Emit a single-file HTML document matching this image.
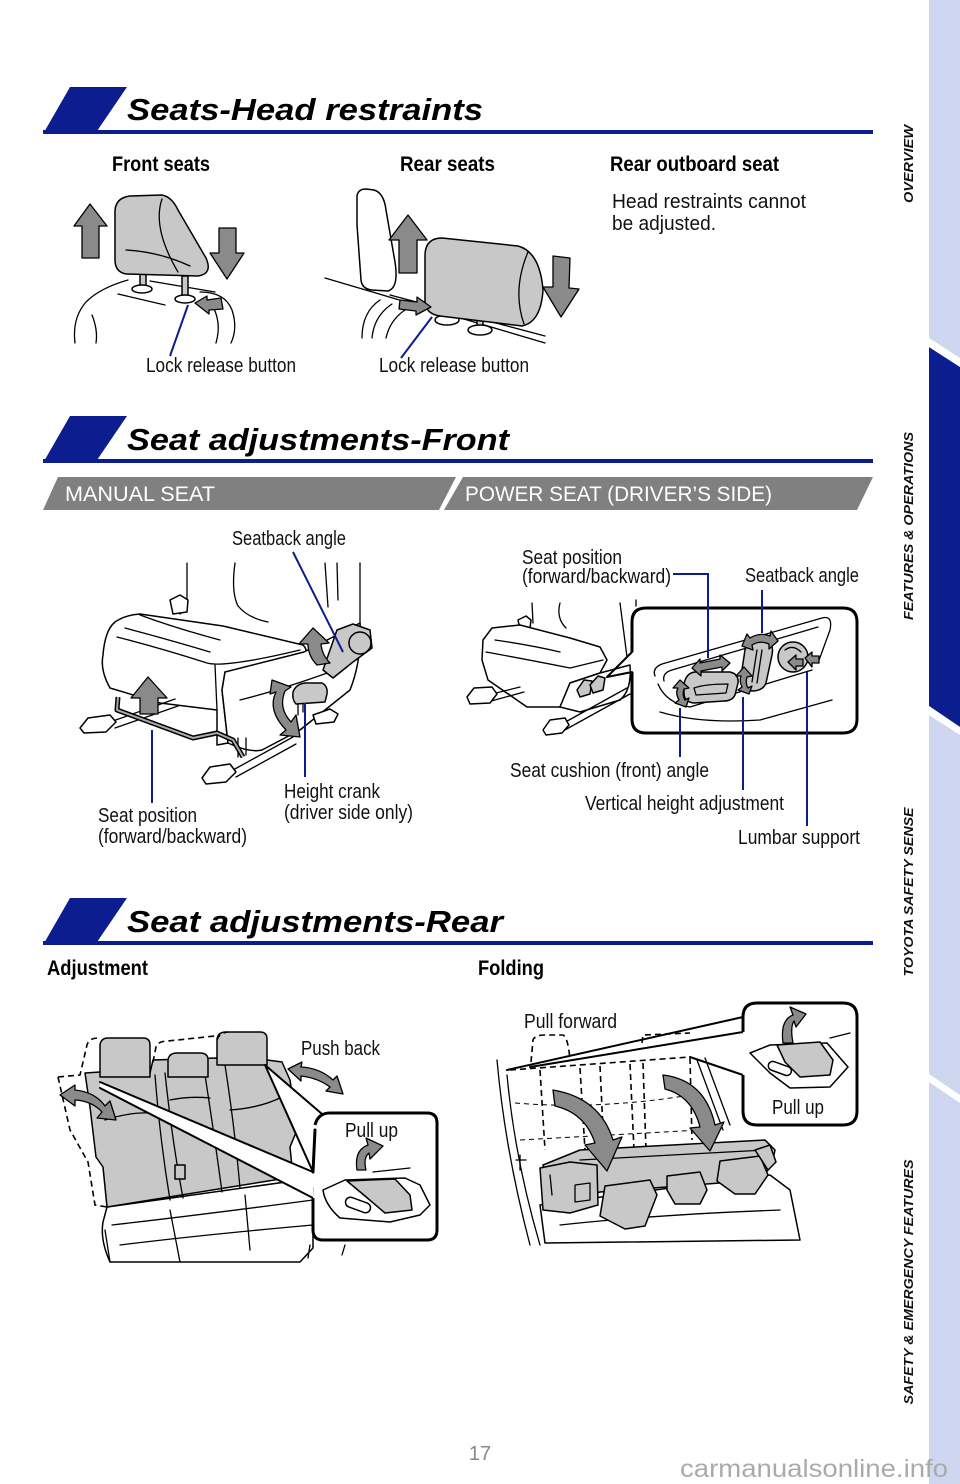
<!DOCTYPE html>
<html><head><meta charset="utf-8">
<style>
html,body{margin:0;padding:0;background:#fff;}
svg{display:block;}
.h{font-family:"Liberation Sans",sans-serif;font-weight:bold;font-style:italic;font-size:31px;fill:#000;}
.sh{font-family:"Liberation Sans Narrow","Liberation Sans",sans-serif;font-weight:bold;font-size:21px;fill:#000;}
.l{font-family:"Liberation Sans Narrow","Liberation Sans",sans-serif;font-size:20px;fill:#111;}
.tab{font-family:"Liberation Sans",sans-serif;font-size:21px;fill:#fff;}
.side{font-family:"Liberation Sans",sans-serif;font-weight:bold;font-style:italic;font-size:13px;fill:#111;}
.o{fill:none;stroke:#000;stroke-width:1.3;stroke-linejoin:round;stroke-linecap:round}
.g{fill:#c8c8c8;stroke:#000;stroke-width:1.5;stroke-linejoin:round}
.w{fill:#fff;stroke:#000;stroke-width:1.5;stroke-linejoin:round}
.a{fill:#8a8a8a;stroke:#000;stroke-width:1.3;stroke-linejoin:round}
.b{stroke:#0c1d8f;stroke-width:2;fill:none}
.bx{fill:#fff;stroke:#000;stroke-width:3;stroke-linejoin:round}
.d{fill:none;stroke:#000;stroke-width:1.6;stroke-dasharray:6 4}
.dt{fill:none;stroke:#000;stroke-width:1;stroke-dasharray:5 4}
</style></head><body>
<svg width="960" height="1484" viewBox="0 0 960 1484" xmlns="http://www.w3.org/2000/svg">
<rect width="960" height="1484" fill="#fff"/>

<!-- side band -->
<rect x="929" y="0" width="31" height="1484" fill="#cfd7f0"/>
<polygon points="929,347 960,367 960,727 929,706" fill="#0c1d8f"/>
<polygon points="929,338 960,358 960,367 929,347" fill="#fff"/>
<polygon points="929,706 960,727 960,735 929,715" fill="#fff"/>
<polygon points="929,1074 960,1095 960,1103 929,1082" fill="#fff"/>
<text class="side" transform="translate(913,164) rotate(-90)" text-anchor="middle" textLength="78" lengthAdjust="spacingAndGlyphs">OVERVIEW</text>
<text class="side" transform="translate(913,526) rotate(-90)" text-anchor="middle" textLength="188" lengthAdjust="spacingAndGlyphs">FEATURES &amp; OPERATIONS</text>
<text class="side" transform="translate(913,892) rotate(-90)" text-anchor="middle" textLength="169" lengthAdjust="spacingAndGlyphs">TOYOTA SAFETY SENSE</text>
<text class="side" transform="translate(913,1282) rotate(-90)" text-anchor="middle" textLength="245" lengthAdjust="spacingAndGlyphs">SAFETY &amp; EMERGENCY FEATURES</text>

<!-- headers -->
<polygon points="70,87 127,87 95,134 43,134" fill="#0c1d8f"/>
<rect x="43" y="130" width="830" height="4" fill="#0c1d8f"/>
<text class="h" x="127" y="120" textLength="356" lengthAdjust="spacingAndGlyphs">Seats-Head restraints</text>

<polygon points="70,416 127,416 95,463 43,463" fill="#0c1d8f"/>
<rect x="43" y="459" width="830" height="4" fill="#0c1d8f"/>
<text class="h" x="127" y="450" textLength="382" lengthAdjust="spacingAndGlyphs">Seat adjustments-Front</text>

<polygon points="70,898 127,898 95,945 43,945" fill="#0c1d8f"/>
<rect x="43" y="941" width="830" height="4" fill="#0c1d8f"/>
<text class="h" x="127" y="932" textLength="376" lengthAdjust="spacingAndGlyphs">Seat adjustments-Rear</text>

<!-- gray tabs -->
<polygon points="58,477 456,477 439,510 43,510" fill="#808080"/>
<polygon points="463,477 873,477 857,510 444,510" fill="#808080"/>
<text class="tab" x="65" y="501" textLength="150" lengthAdjust="spacingAndGlyphs">MANUAL SEAT</text>
<text class="tab" x="465" y="501" textLength="307" lengthAdjust="spacingAndGlyphs">POWER SEAT (DRIVER’S SIDE)</text>

<!-- ===== Section 1 labels ===== -->
<text class="sh" x="112" y="171" textLength="98" lengthAdjust="spacingAndGlyphs">Front seats</text>
<text class="sh" x="400" y="171" textLength="95" lengthAdjust="spacingAndGlyphs">Rear seats</text>
<text class="sh" x="610" y="171" textLength="169" lengthAdjust="spacingAndGlyphs">Rear outboard seat</text>
<text class="l" x="612" y="208" textLength="194" lengthAdjust="spacingAndGlyphs">Head restraints cannot</text>
<text class="l" x="612" y="230" textLength="104" lengthAdjust="spacingAndGlyphs">be adjusted.</text>
<text class="l" x="146" y="372" textLength="150" lengthAdjust="spacingAndGlyphs">Lock release button</text>
<text class="l" x="379" y="372" textLength="150" lengthAdjust="spacingAndGlyphs">Lock release button</text>

<!-- Front headrest illustration -->
<path class="o" d="M75,343 Q72,318 86,302 Q100,288 128,280"/>
<path class="o" d="M200,292 Q225,292 232,310 Q238,328 231,343"/>
<path class="o" d="M118,294 L165,305"/>
<path class="o" d="M92,315 Q98,330 96,343"/>
<path class="o" d="M212,305 Q222,322 216,343"/>
<path class="o" d="M150,281 L215,292"/>
<rect class="g" x="140" y="268" width="6" height="20"/>
<ellipse class="w" cx="142" cy="289" rx="10" ry="4"/>
<rect class="g" x="182" y="276" width="6" height="22"/>
<ellipse class="w" cx="185" cy="299" rx="10" ry="4"/>
<path class="g" d="M115,214 Q114,198 130,196 L162,195 Q172,197 178,210 L206,258 Q213,274 198,276 L126,274 Q115,272 115,260 Z"/>
<path class="o" d="M162,199 Q152,228 178,272"/>
<path class="o" d="M126,250 Q160,252 190,266"/>
<path class="a" d="M90,204 L107,226 L99,226 L99,258 L82,258 L82,226 L74,226 Z"/>
<path class="a" d="M219,228 L236,228 L236,253 L244,253 L227,279 L210,253 L219,253 Z"/>
<path class="a" d="M195,303 L207,296 L207,300 L221,298 L223,309 L209,310 L209,314 Z"/>
<line class="b" x1="188" y1="305" x2="170" y2="356"/>

<!-- Rear headrest illustration -->
<path class="o" d="M325,278 L545,343"/>
<path class="o" d="M390,295 L545,336"/>
<path class="w" d="M357,196 Q358,189 366,189 L374,190 Q384,193 386,210 L395,262 Q399,288 388,291 L372,290 Q362,289 361,280 L357,225 Z"/>
<path class="o" d="M362,338 Q362,312 380,300"/>
<path class="o" d="M372,338 Q374,316 392,304"/>
<path class="o" d="M386,338 Q390,320 405,310"/>
<rect class="g" x="443" y="302" width="6" height="17"/>
<ellipse class="w" cx="447" cy="320" rx="12" ry="5"/>
<rect class="g" x="477" y="312" width="6" height="17"/>
<ellipse class="w" cx="480" cy="330" rx="12" ry="5"/>
<path class="g" d="M425,254 Q426,238 442,238 L518,246 Q540,252 543,290 Q541,322 522,326 L440,316 Q425,314 425,300 Z"/>
<path class="o" d="M528,252 Q512,290 524,324"/>
<path class="a" d="M408,215 L427,240 L417,240 L417,273 L399,273 L399,240 L389,240 Z"/>
<path class="a" d="M553,256 L570,258 L569,288 L579,289 L561,317 L543,287 L553,287 Z"/>
<path class="a" d="M400,300 L417,302 L417,297 L431,307 L416,315 L416,311 L399,309 Z"/>
<line class="b" x1="432" y1="317" x2="401" y2="358"/>

<!-- ===== Manual seat ===== -->
<path class="o" d="M187,563 L187,600 Q186,610 180,614"/>
<path class="o" d="M235,563 Q231,592 238,606 Q248,618 268,622"/>
<path class="o" d="M325,563 L328,607"/>
<path class="o" d="M337,563 L338,600"/>
<path class="o" d="M360,563 L360,625"/>
<path class="w" d="M170,600 L180,595 L188,600 L187,612 L173,614 Z"/>
<!-- cushion -->
<path class="w" d="M115,622 Q125,615 140,614 L223,626 L303,645 Q310,652 302,660 L225,672 L222,690 L228,743 L217,745 L217,710 L160,703 L110,688 Q100,670 103,655 Q105,630 115,622 Z"/>
<path class="o" d="M117,637 Q160,648 207,663 Q225,668 300,650"/>
<path class="o" d="M125,628 Q170,640 210,652"/>
<path class="o" d="M140,615 Q175,628 220,640"/>
<path class="o" d="M215,665 L217,710"/>
<path class="w" d="M228,743 Q250,753 262,750 L300,730 L350,690 Q362,660 360,623 L304,652 L225,672 L222,690 Z"/>
<path class="o" d="M240,700 Q280,690 330,672"/>
<!-- rails -->
<path class="o" d="M110,722 L175,699"/>
<path class="o" d="M115,728 L178,706"/>
<path class="w" d="M80,728 L88,718 L110,715 L116,722 L106,732 L84,733 Z"/>
<path class="o" d="M233,770 L293,737"/>
<path class="o" d="M236,777 L296,744"/>
<path class="w" d="M202,778 L210,767 L230,764 L236,772 L226,782 L206,784 Z"/>
<path class="w" d="M313,715 L330,709 L338,714 L334,722 L316,724 Z"/>
<path class="o" d="M238,738 L238,757 M246,738 L246,755"/>
<!-- handle bar -->
<path d="M118,697 L117,710 L193,738 L217,733 L233,740 L243,757" fill="none" stroke="#000" stroke-width="5" stroke-linejoin="round"/>
<path d="M118,697 L117,710 L193,738 L217,733 L233,740 L243,757" fill="none" stroke="#aaa" stroke-width="2" stroke-linejoin="round"/>
<!-- recliner lever -->
<path class="g" d="M323,670 L337,630 L353,624 L370,630 L372,648 L353,662 L333,678 Z"/>
<circle class="g" cx="360" cy="643" r="11"/>
<!-- height crank -->
<path class="g" d="M293,692 Q296,684 305,683 L322,683 Q328,686 327,694 L325,702 L296,704 Q292,700 293,692 Z"/>
<path class="o" d="M298,704 L298,715 M303,704 L303,712"/>
<!-- arrows -->
<path class="a" d="M148,677 L167,698 L158,698 L158,714 L140,714 L140,698 L131,698 Z"/>
<path class="a" d="M313,628 L329,643 L321,644 Q322,655 330,663 L317,665 Q308,656 308,644 L299,644 Z"/>
<path class="a" d="M272,680 L291,687 L285,691 Q278,708 291,722 L296,715 L300,737 L280,735 L286,730 Q267,710 276,692 L270,694 Z"/>
<line class="b" x1="293" y1="552" x2="343" y2="652"/>
<line class="b" x1="152" y1="730" x2="152" y2="803"/>
<line class="b" x1="305" y1="703" x2="305" y2="777"/>
<text class="l" x="232" y="545" textLength="114" lengthAdjust="spacingAndGlyphs">Seatback angle</text>
<text class="l" x="284" y="798" textLength="96" lengthAdjust="spacingAndGlyphs">Height crank</text>
<text class="l" x="284" y="819" textLength="129" lengthAdjust="spacingAndGlyphs">(driver side only)</text>
<text class="l" x="98" y="822" textLength="99" lengthAdjust="spacingAndGlyphs">Seat position</text>
<text class="l" x="98" y="843" textLength="149" lengthAdjust="spacingAndGlyphs">(forward/backward)</text>

<!-- ===== Power seat ===== -->
<path class="o" d="M532,603 L533,623"/>
<path class="o" d="M560,603 Q556,618 566,628"/>
<path class="o" d="M620,603 L627,657"/>
<path class="o" d="M636,600 L636,606"/>
<path class="w" d="M518,620 L526,616 L531,620 L530,628 L520,629 Z"/>
<path class="w" d="M483,640 L492,628 L520,625 L570,638 L600,647 L607,660 L600,673 L570,683 L560,707 L527,707 L488,680 L482,660 Z"/>
<path class="o" d="M486,652 Q530,660 570,668 L603,660"/>
<path class="o" d="M495,640 Q530,645 560,652"/>
<path class="w" d="M560,707 L570,683 L600,673 L630,665 Q632,690 620,700 L580,712 Z"/>
<path class="g" d="M577,690 L584,680 L592,681 L590,694 L580,697 Z"/>
<path class="g" d="M590,685 L598,676 L605,678 L603,690 L593,693 Z"/>
<path class="o" d="M480,697 L520,687 M484,703 L524,692"/>
<path class="w" d="M467,697 L474,688 L492,687 L497,694 L490,703 L470,704 Z"/>
<path class="o" d="M560,725 L627,688 M563,731 L630,694"/>
<path class="w" d="M543,730 L550,720 L565,718 L569,725 L562,733 L546,735 Z"/>
<!-- inset box -->
<path class="bx" d="M632,652 L632,622 Q632,608 646,608 L843,608 Q857,608 857,622 L857,719 Q857,733 843,733 L646,733 Q632,733 632,719 L632,672"/>
<path class="o" d="M632,652 L607,677 L632,672" style="stroke-width:2"/>
<path class="o" d="M655,676 Q652,668 662,664 L822,618 Q833,615 830,630 L818,663"/>
<path class="o" d="M664,681 Q662,673 672,670 L818,627"/>
<path class="o" d="M658,684 Q666,703 690,707 L812,670"/>
<path class="o" d="M660,712 Q700,724 760,720 L832,700"/>
<path class="g" d="M684,684 Q686,673 695,672 L730,672 Q739,674 738,683 L735,695 Q732,701 724,701 L694,703 Q684,702 684,693 Z"/>
<path class="o" d="M694,688 Q705,684 728,684 L726,693 L696,695 Z"/>
<path class="g" d="M745,650 Q748,640 758,640 L768,642 Q774,645 772,655 L766,683 Q763,691 752,691 L745,689 Q740,686 741,676 Z"/>
<path class="o" d="M757,650 L752,682 M762,650 L757,683"/>
<circle class="g" cx="793" cy="657" r="15"/>
<path class="o" d="M785,650 Q793,644 801,652"/>
<path class="a" d="M692,668 L700,659 L700,663 L720,659 L720,655 L730,663 L722,671 L722,667 L701,671 L701,676 Z"/>
<path class="a" d="M742,646 L747,634 L750,638 Q760,632 770,636 L771,631 L778,641 L769,649 L769,644 Q760,640 752,645 L753,650 Z"/>
<path class="a" d="M680,680 L689,688 L684,689 Q682,695 685,700 L689,698 L686,707 L675,703 L679,700 Q675,693 678,688 L673,688 Z"/>
<path class="a" d="M744,667 L752,676 L747,677 Q745,683 748,688 L752,686 L749,694 L738,690 L742,687 Q739,681 741,676 L736,676 Z"/>
<path class="a" d="M788,662 L796,655 L796,659 L803,659 L803,666 L796,666 L796,670 Z"/>
<path class="a" d="M805,658 L812,652 L812,656 L819,656 L819,663 L812,663 L812,667 Z"/>
<polyline class="b" points="673,574 708,574 708,658"/>
<line class="b" x1="762" y1="590" x2="762" y2="633"/>
<line class="b" x1="680" y1="708" x2="680" y2="757"/>
<line class="b" x1="743" y1="697" x2="743" y2="790"/>
<line class="b" x1="807" y1="672" x2="807" y2="826"/>
<text class="l" x="522" y="564" textLength="100" lengthAdjust="spacingAndGlyphs">Seat position</text>
<text class="l" x="522" y="583" textLength="149" lengthAdjust="spacingAndGlyphs">(forward/backward)</text>
<text class="l" x="745" y="582" textLength="114" lengthAdjust="spacingAndGlyphs">Seatback angle</text>
<text class="l" x="510" y="777" textLength="199" lengthAdjust="spacingAndGlyphs">Seat cushion (front) angle</text>
<text class="l" x="585" y="810" textLength="199" lengthAdjust="spacingAndGlyphs">Vertical height adjustment</text>
<text class="l" x="738" y="844" textLength="122" lengthAdjust="spacingAndGlyphs">Lumbar support</text>

<!-- ===== Rear Adjustment ===== -->
<text class="sh" x="47" y="975" textLength="101" lengthAdjust="spacingAndGlyphs">Adjustment</text>
<text class="sh" x="478" y="975" textLength="66" lengthAdjust="spacingAndGlyphs">Folding</text>
<!-- cushion -->
<path class="w" d="M107,1207 L300,1180 L313,1188 L313,1248 L300,1262 L110,1262 Q100,1240 103,1222 Z"/>
<path class="o" d="M112,1225 Q200,1215 313,1200"/>
<path class="o" d="M120,1245 Q200,1235 313,1225"/>
<path class="o" d="M170,1210 L180,1262 M245,1195 L250,1250"/>
<path class="o" d="M110,1262 L105,1230"/>
<!-- seatback -->
<path class="g" d="M85,1073 L100,1072 L150,1073 L153,1060 L217,1058 L267,1060 L282,1062 L290,1080 L297,1130 L290,1147 L293,1177 L107,1207 L103,1167 L96,1157 L90,1107 Z"/>
<path class="o" d="M155,1075 Q160,1140 170,1200 M165,1073 Q172,1140 183,1198"/>
<path class="o" d="M205,1075 Q215,1140 222,1192 M225,1065 Q235,1130 240,1188"/>
<path class="o" d="M105,1120 Q130,1112 150,1113"/>
<path class="o" d="M230,1110 Q260,1108 282,1097"/>
<path class="o" d="M170,1100 Q190,1096 210,1098"/>
<rect class="g" x="175" y="1165" width="10" height="14"/>
<path class="g" d="M100,1077 L100,1045 Q101,1038 108,1038 L143,1038 Q150,1038 150,1045 L150,1077 Z"/>
<path class="g" d="M168,1077 L168,1060 Q169,1053 177,1053 L200,1053 Q208,1053 208,1060 L208,1077 Z"/>
<path class="g" d="M217,1065 L217,1039 Q218,1032 226,1032 L260,1032 Q267,1032 267,1039 L267,1065 Z"/>
<path class="d" d="M58,1077 L80,1075 L87,1045 Q89,1038 98,1038"/>
<path class="d" d="M58,1077 L70,1130 L88,1162 L95,1205 L107,1207"/>
<path class="d" d="M153,1062 L156,1047 Q158,1041 168,1041 L215,1036"/>
<path class="d" d="M217,1040 Q219,1033 228,1032"/>
<!-- wedge -->
<polygon points="100,1082 313,1172 313,1198 100,1088" fill="#fff"/>
<polygon points="265,1065 322,1114 313,1172" fill="#fff"/>
<path class="o" d="M100,1082 L313,1172 M100,1088 L313,1198" style="stroke-width:2"/>
<path class="o" d="M265,1065 L322,1114 M265,1065 L313,1172" style="stroke-width:2"/>
<path class="bx" d="M313,1198 L313,1230 Q313,1240 323,1240 L427,1240 Q437,1240 437,1230 L437,1123 Q437,1113 427,1113 L330,1113 Q318,1113 315,1125"/>
<path class="o" d="M315,1130 L313,1172" style="stroke-width:3"/>
<path class="w" d="M323,1190 L345,1180 L405,1178 L420,1185 L430,1205 L420,1215 L390,1222 L340,1218 Q325,1205 323,1190 Z"/>
<path class="o" d="M373,1172 L410,1168"/>
<path class="g" d="M347,1181 L395,1179 L410,1195 L412,1210 L385,1213 L365,1196 Z"/>
<rect class="w" x="345" y="1200" width="26" height="10" rx="5" transform="rotate(20 358 1205)"/>
<path class="a" d="M357,1170 Q354,1150 368,1145 L366,1138 L383,1146 L370,1159 L369,1153 Q363,1158 366,1170 Z"/>
<path class="a" d="M60,1095 L75,1085 L75,1090 Q95,1092 105,1106 L110,1101 L116,1120 L97,1118 L102,1112 Q92,1101 75,1100 L75,1106 Z"/>
<path class="a" d="M288,1069 L302,1062 L301,1067 Q320,1068 333,1080 L337,1076 L343,1094 L326,1091 L330,1087 Q318,1078 301,1076 L301,1081 Z"/>
<path class="o" d="M310,1245 L308,1258 M345,1245 L342,1255"/>
<text class="l" x="301" y="1055" textLength="79" lengthAdjust="spacingAndGlyphs">Push back</text>
<text class="l" x="345" y="1137" textLength="53" lengthAdjust="spacingAndGlyphs">Pull up</text>

<!-- ===== Folding ===== -->
<path class="o" d="M497,1060 Q505,1150 530,1245"/>
<path class="o" d="M507,1075 Q515,1160 540,1245"/>
<path class="o" d="M697,1060 L723,1130 M705,1058 L730,1125"/>
<path class="o" d="M520,1155 L520,1170 M516,1160 L526,1160"/>
<path class="d" d="M510,1070 L690,1057"/>
<path class="d" d="M531,1062 L533,1040 Q535,1035 545,1035 L563,1035 Q568,1037 570,1060"/>
<path class="d" d="M642,1043 L643,1035 L690,1033"/>
<path class="d" d="M540,1070 L545,1150 M580,1068 L585,1150 M600,1066 L604,1150 M630,1064 L634,1150 M643,1063 L646,1150 M690,1058 L692,1140"/>
<path class="dt" d="M515,1103 Q600,1110 690,1095"/>
<path class="dt" d="M520,1140 L700,1130"/>
<!-- cushion below -->
<path class="w" d="M540,1205 L770,1175 L790,1190 L800,1240 L545,1243 Z"/>
<path class="o" d="M560,1225 Q650,1215 780,1210"/>
<!-- folded slab -->
<path class="g" d="M543,1165 L580,1150 L765,1140 L775,1150 L772,1165 L760,1180 L600,1192 L560,1206 L547,1210 Z"/>
<path class="o" d="M580,1160 L765,1150"/>
<path class="g" d="M540,1168 L570,1162 L597,1165 L598,1205 L570,1213 L543,1210 Z"/>
<path class="o" d="M550,1175 L552,1195 M575,1185 L590,1183 L590,1200 L575,1202 Z"/>
<path class="g" d="M605,1186 L650,1180 L657,1195 L645,1226 L625,1229 L600,1216 Z"/>
<path class="g" d="M667,1176 L700,1172 L707,1190 L700,1204 L675,1204 L667,1190 Z"/>
<path class="g" d="M720,1161 L760,1156 L768,1175 L755,1194 L735,1194 L717,1181 Z"/>
<path class="g" d="M755,1150 L770,1145 L776,1162 L768,1170 Z"/>
<path class="a" d="M553,1090 Q600,1098 613,1140 L622,1137 L607,1171 L585,1145 L595,1143 Q585,1113 555,1106 Z"/>
<path class="a" d="M663,1075 Q705,1080 715,1125 L724,1122 L710,1151 L690,1128 L700,1127 Q692,1096 665,1089 Z"/>
<!-- wedges -->
<path class="o" d="M507,1070 L743,1017 M530,1067 L743,1032 M690,1057 L743,1075" style="stroke-width:2"/>
<path class="bx" d="M743,1032 L743,1017 Q743,1003 757,1003 L843,1003 Q857,1003 857,1017 L857,1111 Q857,1125 843,1125 L757,1125 Q743,1125 743,1111 L743,1075"/>
<path class="w" d="M750,1053 L770,1045 L827,1043 L848,1067 L830,1087 L790,1088 L770,1073 Z"/>
<path class="o" d="M830,1038 L850,1033"/>
<path class="g" d="M777,1045 L820,1042 L833,1060 L830,1075 L800,1077 L785,1062 Z"/>
<rect class="w" x="768" y="1064" width="24" height="9" rx="4.5" transform="rotate(20 780 1068)"/>
<path class="a" d="M783,1043 Q780,1020 793,1015 L790,1007 L806,1014 L796,1027 L794,1021 Q790,1027 793,1043 Z"/>
<text class="l" x="524" y="1028" textLength="93" lengthAdjust="spacingAndGlyphs">Pull forward</text>
<text class="l" x="772" y="1114" textLength="52" lengthAdjust="spacingAndGlyphs">Pull up</text>

<!-- footer -->
<text x="480" y="1460" text-anchor="middle" font-family="Liberation Sans, sans-serif" font-size="20" fill="#888">17</text>
<text x="680" y="1477" font-family="Liberation Sans, sans-serif" font-size="25" fill="#aaaaaa" textLength="268" lengthAdjust="spacingAndGlyphs">carmanualsonline.info</text>
</svg>
</body></html>
